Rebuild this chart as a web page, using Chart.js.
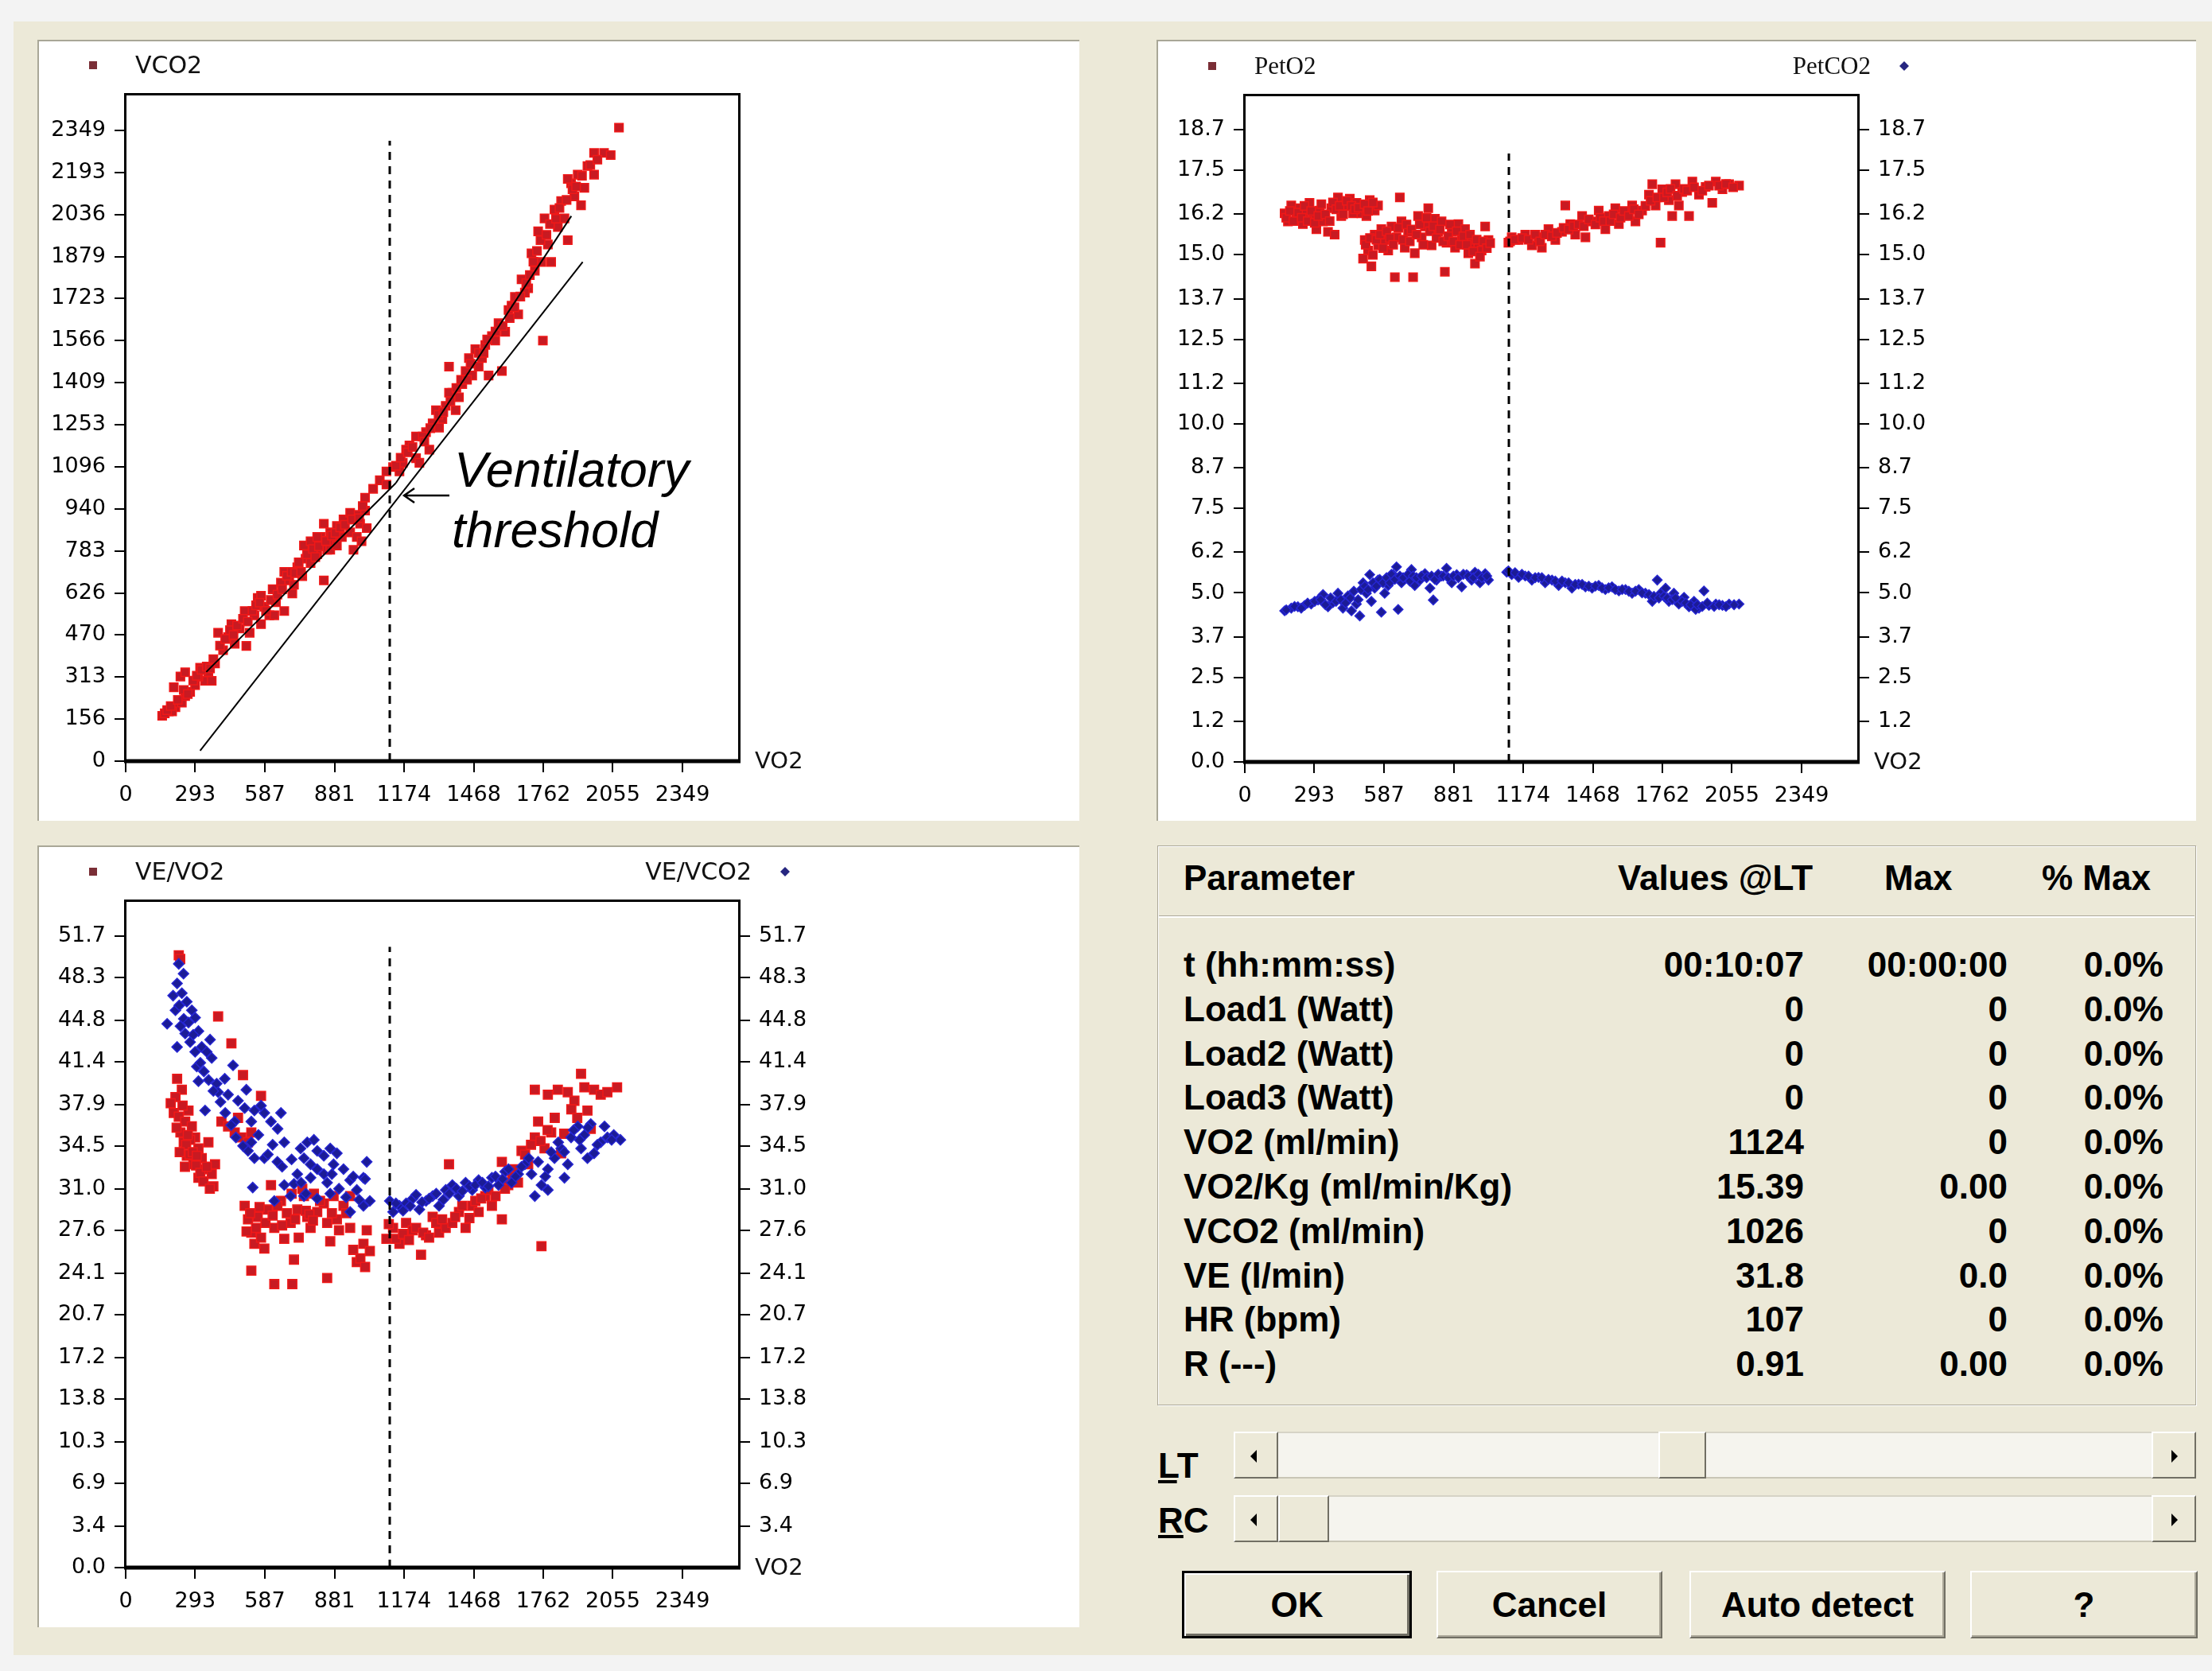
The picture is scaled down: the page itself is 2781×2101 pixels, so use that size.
<!DOCTYPE html>
<html>
<head>
<meta charset="utf-8">
<script src="https://cdn.jsdelivr.net/npm/chart.js@4.4.0/dist/chart.umd.min.js"></script>
<style>
html,body{margin:0;padding:0;}
body{width:2781px;height:2101px;background:#f3f3f3;position:relative;overflow:hidden;font-family:"Liberation Sans",Arial,sans-serif;}
#frame{position:absolute;left:17px;top:27px;width:2764px;height:2054px;background:#ece9d8;}
.panel{position:absolute;background:#fff;border-top:2px solid #a9a797;border-left:2px solid #a9a797;box-sizing:border-box;}
canvas{position:absolute;}
#group{position:absolute;left:1455px;top:1063px;width:1306px;height:704px;box-sizing:border-box;border:1px solid #aca899;box-shadow:inset 1px 1px 0 #fff,1px 1px 0 #fff;}
#sep{position:absolute;left:1457px;top:1151px;width:1302px;height:1px;background:#aca899;border-bottom:2px solid #fff;}
.txt{position:absolute;font-weight:bold;font-size:44px;line-height:50px;color:#000;white-space:nowrap;}
.track{position:absolute;left:1551px;width:1210px;height:59px;background:#f5f4ee;box-sizing:border-box;border-top:2px solid #d6d3c6;border-bottom:2px solid #c9c6b6;}
.sbtn{position:absolute;top:-2px;width:56px;height:59px;background:#ece9d8;box-sizing:border-box;border:2px solid;border-color:#fff #716f64 #716f64 #fff;}
.arrL,.arrR{position:absolute;top:21px;width:0;height:0;border-top:8px solid transparent;border-bottom:8px solid transparent;}
.arrL{left:19px;border-right:8px solid #000;}
.arrR{left:23px;border-left:8px solid #000;}
.btn{position:absolute;top:1975px;height:85px;background:#ece9d8;box-sizing:border-box;border:2px solid;border-color:#fff #716f64 #716f64 #fff;box-shadow:inset -2px -2px 0 #aca899;display:flex;align-items:center;justify-content:center;font-weight:bold;font-size:44px;color:#000;}
#ok{border:3px solid #000;box-shadow:inset 2px 2px 0 #fff,inset -3px -3px 0 #716f64;}
</style>
</head>
<body>
<div id="frame"></div>
<div class="panel" style="left:47px;top:50px;width:1310px;height:982px;"></div>
<div class="panel" style="left:1454px;top:50px;width:1307px;height:982px;"></div>
<div class="panel" style="left:47px;top:1063px;width:1310px;height:983px;"></div>
<canvas id="c1" width="1310" height="982" style="left:47px;top:50px;"></canvas>
<canvas id="c2" width="1310" height="982" style="left:1454px;top:51px;"></canvas>
<canvas id="c3" width="1310" height="982" style="left:47px;top:1064px;"></canvas>

<div id="group"></div>
<div id="sep"></div>
<div id="tbl"></div>

<div class="txt" style="left:1456px;top:1818px;"><u>L</u>T</div>
<div class="txt" style="left:1456px;top:1887px;"><u>R</u>C</div>
<div class="track" style="top:1800px;">
  <div class="sbtn" style="left:0;"><div class="arrL"></div></div>
  <div class="sbtn" style="left:534px;width:60px;"></div>
  <div class="sbtn" style="left:1154px;"><div class="arrR"></div></div>
</div>
<div class="track" style="top:1880px;">
  <div class="sbtn" style="left:0;"><div class="arrL"></div></div>
  <div class="sbtn" style="left:56px;width:64px;"></div>
  <div class="sbtn" style="left:1154px;"><div class="arrR"></div></div>
</div>
<div class="btn" id="ok" style="left:1486px;width:289px;">OK</div>
<div class="btn" style="left:1806px;width:284px;">Cancel</div>
<div class="btn" style="left:2124px;width:322px;">Auto detect</div>
<div class="btn" style="left:2477px;width:286px;">?</div>

<script>
// axis tick labels
const vo2Ticks = ['0','293','587','881','1174','1468','1762','2055','2349'];
const vco2Ticks = ['0','156','313','470','626','783','940','1096','1253','1409','1566','1723','1879','2036','2193','2349'];
const petTicks = ['0.0','1.2','2.5','3.7','5.0','6.2','7.5','8.7','10.0','11.2','12.5','13.7','15.0','16.2','17.5','18.7'];
const eqTicks = ['0.0','3.4','6.9','10.3','13.8','17.2','20.7','24.1','27.6','31.0','34.5','37.9','41.4','44.8','48.3','51.7'];

// threshold marker (VO2) and the top of each dashed line
const ltVO2 = 1114;
const dashTop = [2310, 18.0, 50.8];

// VCO2 vs VO2
const vo2Slope = [154,182,210,203,237,251,231,272,293,314,
335,349,363,377,390,411,432,446,460,481,
502,509,523,543,557,571,585,606,620,634,
655,669,690,703,724,745,759,780,794,808,
822,836,850,863,877,891,912,933,947,961,
975,989,1010,1010,1017,752,780,808,836,863,
891,919,947,975,995,710,627,571,669,307,
251,196,1044,1072,1100,1128,1100,1155,1169,1197,
1225,1239,1225,1267,1295,1309,1336,1350,1364,1378,
1406,1420,1434,1448,1462,1475,1503,1517,1531,1587,
1545,1573,1601,1615,1642,1656,1670,1698,1712,1726,
1740,1754,1767,1760,1781,1795,1809,1837,1851,1865,
1879,1893,1907,1921,1935,1948,1976,1976,2018,2046,
2081,1865,1823,1684,1628,1559,1489,1364,1392,1281,
1183,1253,1322,
165,175,190,220,245,262,285,300,320,342,
356,370,398,420,440,455,470,495,515,535,
550,565,592,612,640,660,680,700,715,730,
740,765,790,800,815,845,870,885,905,925,
955,985,1000,
1140,1160,1190,1210,1260,1285,1320,1340,1370,1395,
1415,1440,1455,1490,1510,1525,1560,1590,1620,1640,
1665,1690,1705,1720,1735,1750,1775,1790,1815,1830,
1860,1885,1900,1925,1960,1990];
const vco2Slope = [169,185,201,275,218,242,315,258,283,348,
299,332,299,364,478,413,462,510,437,494,
559,429,478,543,608,510,575,543,640,592,
665,559,673,624,722,689,754,738,803,770,
835,673,787,852,819,876,835,900,852,787,
917,884,933,981,868,803,819,835,884,787,
803,900,925,835,819,657,543,616,705,315,
331,185,1014,1046,1079,1095,1030,1079,1111,1176,
1128,1111,1209,1225,1258,1307,1274,1323,1469,1372,
1355,1404,1453,1501,1436,1534,1501,1550,1436,1453,
1583,1631,1599,1680,1729,1664,1794,1761,1891,1826,
1973,1859,2021,1566,1924,1859,2054,2086,2021,1940,
2152,2103,2184,2070,2135,2216,2184,2265,2265,2257,
2359,2168,1989,1745,1696,1566,1469,1372,1307,1160,
1160,1209,1242,
178,190,205,228,265,250,300,318,340,352,
345,380,430,455,488,470,505,530,520,560,
580,590,560,600,620,640,690,705,700,740,
705,770,790,760,800,820,840,850,870,880,
900,905,950,
1100,1130,1150,1170,1190,1240,1290,1300,1340,1390,
1420,1420,1480,1520,1520,1570,1600,1620,1650,1690,
1730,1780,1810,1860,1900,1940,1960,2000,2020,2060,
2090,2130,2140,2180,2220,2240];

// fitted lines on the V-slope plot
const fitAllVO2 = [314, 1928];
const fitAllVCO2 = [39, 1859];
const fitLowVO2 = [340, 1140];
const fitLowVCO2 = [332, 1036];
const fitHighVO2 = [1140, 1880];
const fitHighVCO2 = [1036, 2030];

// PetO2 / PetCO2 vs VO2
const vo2PetO2 = [168,182,196,217,231,245,259,273,287,302,
316,330,351,365,379,393,407,421,443,457,
471,492,513,527,548,562,654,506,520,499,
534,548,562,576,590,605,619,633,640,661,
675,689,710,717,731,746,760,774,788,802,
816,830,844,851,873,887,901,915,929,943,
957,971,985,999,1014,1028,1112,1126,1155,1183,
1211,1239,1253,1281,1310,1338,1352,1373,1394,1423,
1437,1465,1493,1521,1535,1563,1578,1606,1634,1648,
1676,1705,1719,1733,1754,1761,1789,1817,1831,1845,
1874,1888,1916,1944,1972,1987,2015,2043,2085,1803,
175,190,205,225,240,252,265,280,295,310,
323,340,358,372,386,400,415,430,450,465,
480,505,520,540,
510,528,540,555,570,583,598,612,626,648,
668,682,696,703,724,738,753,767,781,795,
809,823,837,858,866,880,894,908,922,936,
950,964,978,992,1006,1021,1035,
1119,1140,1170,1197,1225,1246,1267,1295,1317,1345,
1366,1387,1408,1430,1451,1479,1500,1514,1542,1556,
1585,1599,1620,1641,1662,1690,1712,1740,1768,1782,
1796,1824,1852,1866,1895,1930,1958,2001,2030,2060];
const petO2 = [16.23,15.99,16.46,16.15,16.38,15.91,16.23,16.54,16.07,15.76,
16.31,15.99,15.68,16.38,15.60,16.70,16.15,16.46,16.66,16.23,
16.54,16.23,16.15,16.62,16.31,16.46,16.70,15.44,15.13,14.89,
14.66,15.60,15.28,15.76,15.44,15.13,15.84,14.34,15.52,15.99,
15.21,15.68,14.34,15.05,16.15,15.52,15.84,16.38,15.28,16.07,
15.68,15.99,14.50,15.36,15.68,15.21,15.91,15.52,15.76,15.05,
15.36,14.74,15.28,15.13,15.84,15.44,15.36,15.52,15.44,15.60,
15.28,15.52,15.21,15.76,15.44,15.68,16.46,15.91,15.60,16.15,
15.52,15.99,16.31,15.76,16.15,16.38,15.91,16.23,16.46,15.99,
16.31,16.78,17.09,16.46,15.36,16.94,16.62,17.09,16.46,16.86,
16.15,17.17,16.78,17.01,16.54,17.17,16.94,17.09,17.05,16.15,
16.1,16.3,16.0,16.25,16.1,16.45,16.0,16.3,15.95,16.15,
16.5,16.2,16.0,16.55,16.35,16.45,16.2,16.6,16.45,16.35,
16.4,16.5,16.3,16.55,
15.3,15.5,15.0,15.45,15.6,15.2,15.7,15.5,15.3,15.8,
15.45,15.9,15.4,15.75,15.6,15.9,15.3,16.1,15.7,15.85,
15.5,15.75,15.4,15.55,15.9,15.4,15.7,15.3,15.55,15.3,
15.6,15.1,15.45,14.95,15.4,15.2,15.35,
15.40,15.45,15.5,15.45,15.6,15.4,15.6,15.55,15.65,15.8,
15.75,15.85,15.9,15.85,16.05,15.9,16.1,16.0,16.0,16.2,
16.1,16.3,16.15,16.35,16.2,16.45,16.6,16.7,16.7,16.85,
16.95,16.75,16.95,16.9,17.0,16.9,17.05,17.05,17.1,17.0];
const vo2PetCO2 = [168,196,224,252,280,309,330,351,372,393,
414,435,450,471,485,499,513,527,534,548,
562,576,590,605,626,640,647,661,682,703,
717,739,760,781,795,809,830,851,873,894,
915,936,957,971,992,1014,1028,1105,1126,1155,
1183,1211,1239,1267,1296,1324,1352,1380,1408,1437,
1465,1493,1521,1549,1578,1606,1634,1662,1690,1719,
1740,1754,1775,1789,1810,1831,1853,1874,1895,1916,
1937,1958,1987,2015,2043,2085,1902,
175,210,238,265,295,320,340,362,385,405,
425,445,460,478,490,506,520,541,555,569,
583,598,612,619,633,654,668,689,696,710,
724,745,767,788,802,816,837,858,880,901,
922,943,964,985,1000,1021,1112,1140,1169,1197,
1225,1253,1281,1310,1338,1366,1394,1423,1451,1479,
1507,1535,1563,1592,1620,1648,1676,1705,1726,1747,
1768,1782,1803,1817,1845,1860,1881,1909,1930,1951,
1980,2001,2030,2064];
const petCO2 = [4.47,4.55,4.59,4.63,4.67,4.79,4.95,4.59,4.71,4.99,
4.55,4.91,4.47,4.67,4.32,5.30,4.99,5.54,4.75,5.14,
5.38,4.43,4.99,5.22,5.54,5.77,4.51,5.30,5.46,5.69,
5.22,5.38,5.57,5.14,4.79,5.38,5.50,5.73,5.30,5.54,
5.18,5.54,5.38,5.61,5.30,5.57,5.38,5.61,5.54,5.46,
5.50,5.38,5.46,5.30,5.38,5.22,5.30,5.14,5.26,5.18,
5.14,5.22,5.10,5.18,5.06,5.10,4.99,5.10,4.99,4.75,
5.38,4.99,5.14,4.75,4.99,4.67,4.87,4.59,4.75,4.55,
5.06,4.63,4.67,4.63,4.67,4.67,4.51,
4.5,4.6,4.55,4.7,4.75,4.8,4.65,4.85,4.75,4.8,
4.7,4.85,5.05,4.8,5.1,5.2,5.1,5.3,5.2,5.4,
5.3,5.45,5.3,5.55,5.4,5.5,5.45,5.55,5.35,5.5,
5.45,5.5,5.45,5.5,5.4,5.55,5.5,5.45,5.5,5.45,
5.55,5.5,5.45,5.55,5.45,5.5,5.65,5.6,5.55,5.5,
5.45,5.45,5.4,5.35,5.35,5.3,5.25,5.25,5.2,5.2,
5.15,5.15,5.1,5.1,5.05,5.05,5.0,4.95,4.9,4.85,
4.9,4.85,4.8,4.85,4.75,4.7,4.65,4.65,4.6,4.7,
4.6,4.65,4.6,4.65];

// VE/VO2 and VE/VCO2 vs VO2
const vo2VeO2 = [224,230,217,237,203,224,251,231,265,279,
245,293,307,258,321,286,335,307,363,370,
349,377,272,390,446,495,571,404,432,460,
488,516,474,530,502,516,530,543,557,571,
585,530,599,613,627,655,669,696,710,724,
752,780,808,836,863,850,891,919,947,975,
1003,1017,1030,627,703,766,794,877,947,1100,
1128,1155,1183,1211,1246,1267,1295,1322,1350,1364,
1378,1406,1434,1462,1489,1517,1545,1587,1587,1614,
1642,1670,1698,1726,1726,1740,1754,1767,1781,1795,
1823,1837,1865,1893,1921,1935,1948,1976,2004,2032,
2073,1962,
210,215,240,255,262,270,283,297,300,315,
328,342,355,190,228,250,
510,525,550,565,590,620,640,660,680,700,
715,730,745,760,775,790,820,850,870,900,
930,960,990,1010,
1110,1140,1170,1195,1225,1255,1280,1310,1335,1390,
1420,1450,1475,1500,1530,1560,1600,1630,1655,1685,
1710,1750,1780,1810,1850,1880,1905];
const veVO2 = [50.1,49.8,40.0,39.1,37.2,36.9,36.5,35.6,37.4,36.1,
34.8,35.2,34.3,33.7,33.5,33.0,32.6,31.9,32.2,31.2,
34.8,33.0,35.0,45.1,42.9,40.3,38.6,36.5,36.1,35.6,
35.2,34.8,36.8,35.6,29.6,28.5,27.4,26.5,28.7,27.0,
26.1,24.3,29.3,31.3,27.8,30.0,26.9,28.2,25.2,29.3,
30.4,27.8,29.1,29.8,26.7,23.7,28.5,29.6,27.8,25.0,
26.5,27.6,25.9,23.2,23.2,28.7,30.6,30.4,30.4,26.9,
27.8,26.5,28.2,27.6,25.6,27.2,28.7,27.4,27.8,33.0,
28.2,29.1,27.8,29.6,29.1,30.4,29.6,33.2,28.5,31.3,
32.6,34.1,33.0,35.2,39.1,36.5,26.3,34.3,38.7,35.6,
39.1,33.9,38.9,38.2,40.4,39.3,37.4,39.1,38.7,38.9,
39.3,35.9,
38.5,36.0,37.8,34.6,35.4,33.8,34.0,32.9,33.7,32.3,
31.6,32.8,31.0,38.0,34.0,32.8,
27.5,29.0,27.8,29.5,28.2,28.8,29.6,28.0,29.0,30.6,
28.5,27.0,31.0,29.2,28.9,28.4,30.0,28.2,29.0,27.6,
29.0,26.0,25.3,24.6,
28.1,26.9,27.3,26.8,27.8,27.4,27.0,28.2,28.5,28.7,
29.6,28.6,30.0,30.2,30.9,30.4,31.0,32.0,31.5,33.8,
34.6,34.9,35.8,36.8,35.5,37.5,36.8];
const vo2VeCO2 = [224,244,217,237,258,210,279,175,231,293,
251,307,217,272,321,342,363,293,356,307,
384,418,453,390,432,474,509,502,543,585,
335,460,530,571,613,655,641,516,543,585,
530,669,738,766,794,808,752,836,780,863,
808,877,836,891,724,919,947,1003,1017,975,
536,669,627,696,752,808,863,947,1003,1030,
1114,1128,1155,1183,1211,1239,1267,1295,1322,1350,
1378,1406,1434,1462,1489,1517,1545,1573,1601,1628,
1656,1684,1712,1726,1754,1781,1809,1837,1865,1879,
1907,1921,1935,1948,1962,1976,2004,2032,2059,2087,
1851,1781,
200,226,245,265,285,300,315,330,350,370,
400,420,445,465,495,560,600,620,640,660,
700,710,740,760,780,850,870,900,930,960,
985,1010,1140,1170,1200,1225,1250,1280,1310,1340,
1365,1395,1420,1450,1475,1505,1530,1560,1590,1615,
1645,1670,1700,1740,1770,1795,1825,1850,1890,1915,
1950,1990,2020,2050];
const veVCO2 = [49.4,48.6,47.8,47.0,46.3,45.6,45.6,44.5,44.3,45.0,
43.7,43.9,42.6,43.0,42.6,42.2,41.7,42.2,43.2,39.8,
39.6,40.0,41.1,38.9,38.7,38.2,39.1,37.6,37.4,37.2,
37.4,36.5,36.5,37.8,36.5,37.2,35.9,34.1,33.5,33.5,
34.8,34.8,34.3,34.8,35.0,34.1,33.5,33.7,33.0,34.3,
32.6,33.0,32.2,33.9,32.2,32.6,31.7,31.9,33.2,30.9,
31.1,31.3,30.0,30.4,30.4,30.2,30.6,29.1,29.6,30.0,
30.0,29.1,29.6,29.8,30.2,29.3,30.0,30.4,29.6,30.9,
31.3,30.4,31.5,30.9,31.7,31.1,31.9,31.3,32.4,31.5,
32.2,33.0,32.2,30.4,31.3,32.6,33.5,34.3,33.0,35.2,
36.1,34.3,35.4,33.5,36.3,33.9,34.8,35.2,35.4,35.0,
31.9,30.9,
46.8,46.0,44.9,44.6,43.6,41.0,41.3,40.6,39.9,39.0,
38.1,37.2,36.2,35.2,34.5,35.4,33.8,34.6,33.2,32.8,
33.4,31.4,31.5,30.6,31.9,31.5,32.2,31.0,30.3,32.0,
30.1,31.8,29.8,29.2,29.6,30.5,29.9,30.2,30.6,30.1,
30.6,31.0,30.8,31.2,31.3,31.5,31.2,32.0,31.8,32.6,
32.0,32.8,33.5,33.2,32.0,34.0,34.8,34.0,35.8,35.0,
36.0,34.6,36.1,35.0];

// table
const paramNames = ['t (hh:mm:ss)','Load1 (Watt)','Load2 (Watt)','Load3 (Watt)','VO2 (ml/min)','VO2/Kg (ml/min/Kg)','VCO2 (ml/min)','VE (l/min)','HR (bpm)','R (---)'];
const valuesAtLT = ['00:10:07','0','0','0','1124','15.39','1026','31.8','107','0.91'];
const maxValues = ['00:00:00','0','0','0','0','0.00','0','0.0','0','0.00'];
const pctOfMax = ['0.0%','0.0%','0.0%','0.0%','0.0%','0.0%','0.0%','0.0%','0.0%','0.0%'];

const RED = '#c81a22', RED_EDGE = '#f01818';
const BLUE = '#1b1b96', BLUE_EDGE = '#2626d2';

const tbl = document.getElementById('tbl');
function cell(text, x, y, align) {
  const d = document.createElement('div');
  d.className = 'txt';
  d.textContent = text;
  d.style.top = y + 'px';
  if (align === 'right') d.style.right = (2781 - x) + 'px'; else d.style.left = x + 'px';
  tbl.appendChild(d);
}
cell('Parameter', 1488, 1079, 'left');
cell('Values @LT', 2034, 1079, 'left');
cell('Max', 2369, 1079, 'left');
cell('% Max', 2567, 1079, 'left');
paramNames.forEach((name, i) => {
  const y = Math.round(1213 + i * 55.8 - 25);
  cell(name, 1488, y, 'left');
  cell(valuesAtLT[i], 2268, y, 'right');
  cell(maxValues[i], 2524, y, 'right');
  cell(pctOfMax[i], 2720, y, 'right');
});

Chart.defaults.font.family = '"DejaVu Sans", sans-serif';
Chart.defaults.color = '#000';

function pts(xs, ys) { return xs.map((x, i) => ({ x: x, y: ys[i] })); }

function axis(labels, min, max, pos, fitFn, pad) {
  const vals = labels.map(Number);
  return {
    type: 'linear', position: pos, min: min, max: max,
    afterBuildTicks: s => { s.ticks = vals.map(v => ({ value: v })); },
    afterFit: fitFn,
    ticks: { autoSkip: false, maxRotation: 0, padding: pad, font: { size: 27 }, color: '#000',
      callback: (v, i) => labels[i] },
    grid: { drawOnChartArea: false, drawTicks: true, tickLength: 14, color: '#000', lineWidth: 2 },
    border: { display: false }
  };
}

function marker(ctx, kind, x, y) {
  ctx.beginPath();
  if (kind === 'rect') { ctx.fillStyle = '#7a2e36'; ctx.rect(x - 5, y - 5, 10, 10); }
  else { ctx.fillStyle = '#262680'; ctx.moveTo(x - 6, y); ctx.lineTo(x, y - 6); ctx.lineTo(x + 6, y); ctx.lineTo(x, y + 6); ctx.closePath(); }
  ctx.fill();
}

const panelDeco = {
  id: 'panelDeco',
  afterDatasetsDraw(chart, args, o) {
    const ctx = chart.ctx, a = chart.chartArea;
    ctx.save();
    ctx.strokeStyle = '#000';
    ctx.lineWidth = 3;
    ctx.strokeRect(a.left - 0.5, a.top + 0.5, a.right - a.left + 1, a.bottom - a.top);
    ctx.lineWidth = 5;
    ctx.beginPath(); ctx.moveTo(a.left - 2, a.bottom); ctx.lineTo(a.right + 2, a.bottom); ctx.stroke();
    ctx.fillStyle = '#111';
    ctx.textBaseline = 'middle';
    ctx.font = '29px "DejaVu Sans"';
    ctx.fillText('VO2', a.right + 20, a.bottom + 1);
    if (o.left) {
      marker(ctx, o.left.mark, 70, 32);
      ctx.fillStyle = '#111'; ctx.font = o.left.font; ctx.textAlign = 'left';
      ctx.fillText(o.left.text, 123, 34);
    }
    if (o.right) {
      ctx.fillStyle = '#111'; ctx.font = o.right.font; ctx.textAlign = 'right';
      ctx.fillText(o.right.text, 898, 34);
      marker(ctx, o.right.mark, 940, 32);
    }
    if (o.note) {
      ctx.strokeStyle = '#000'; ctx.lineWidth = 2.5;
      ctx.beginPath();
      ctx.moveTo(518, 573); ctx.lineTo(461, 573);
      ctx.moveTo(474, 564); ctx.lineTo(461, 573); ctx.lineTo(474, 582);
      ctx.stroke();
      ctx.fillStyle = '#000'; ctx.textAlign = 'left'; ctx.textBaseline = 'alphabetic';
      ctx.font = 'italic 63px "Liberation Sans"';
      ctx.fillText('Ventilatory', 524, 562);
      ctx.fillText('threshold', 521, 638);
    }
    ctx.restore();
  }
};

function lineSet(xs, ys, dash, width) {
  return { data: pts(xs, ys), showLine: true, pointRadius: 0, borderColor: '#000', borderWidth: width,
    borderDash: dash, fill: false, order: 0 };
}
function dotSet(xs, ys, style, fill, edge, r, order) {
  return { data: pts(xs, ys), pointStyle: style, pointRadius: r, backgroundColor: fill, borderColor: edge,
    borderWidth: 1.5, order: order };
}

function makeChart(id, datasets, yLabels, yMax, withRight, deco) {
  const scales = {
    x: axis(vo2Ticks, 0, 2587, 'bottom', s => { s.height = 75; }, 13),
    y: axis(yLabels, 0, yMax, 'left', s => { s.width = 111; }, 11)
  };
  // right-hand axis: the bottom slot is taken by the VO2 caption
  if (withRight) scales.y2 = axis(yLabels.slice(1), 0, yMax, 'right', s => { s.width = 90; }, 11);
  return new Chart(document.getElementById(id), {
    type: 'scatter',
    data: { datasets: datasets },
    options: {
      responsive: false, animation: false, devicePixelRatio: 1, events: [],
      layout: { padding: { top: 68, left: 0, bottom: 0, right: withRight ? 338 : 428 } },
      scales: scales,
      plugins: { legend: { display: false }, tooltip: { enabled: false }, panelDeco: deco }
    },
    plugins: [panelDeco]
  });
}

makeChart('c1', [
  lineSet([ltVO2, ltVO2], [0, dashTop[0]], [10, 8], 3),
  lineSet(fitAllVO2, fitAllVCO2, [], 2),
  lineSet(fitLowVO2, fitLowVCO2, [], 2),
  lineSet(fitHighVO2, fitHighVCO2, [], 2),
  dotSet(vo2Slope, vco2Slope, 'rect', RED, RED_EDGE, 7.5, 1)
], vco2Ticks, 2485, false, {
  left: { text: 'VCO2', font: '30px "DejaVu Sans"', mark: 'rect' }, note: true
});

makeChart('c2', [
  lineSet([ltVO2, ltVO2], [0, dashTop[1]], [10, 8], 3),
  dotSet(vo2PetO2, petO2, 'rect', RED, RED_EDGE, 7.5, 1),
  dotSet(vo2PetCO2, petCO2, 'rectRot', BLUE, BLUE_EDGE, 6, 1)
], petTicks, 19.74, true, {
  left: { text: 'PetO2', font: '31px "Liberation Serif"', mark: 'rect' },
  right: { text: 'PetCO2', font: '31px "Liberation Serif"', mark: 'diamond' }
});

makeChart('c3', [
  lineSet([ltVO2, ltVO2], [0, dashTop[2]], [10, 8], 3),
  dotSet(vo2VeCO2, veVCO2, 'rectRot', BLUE, BLUE_EDGE, 6.5, 1),
  dotSet(vo2VeO2, veVO2, 'rect', RED, RED_EDGE, 8, 2)
], eqTicks, 54.6, true, {
  left: { text: 'VE/VO2', font: '30px "DejaVu Sans"', mark: 'rect' },
  right: { text: 'VE/VCO2', font: '30px "DejaVu Sans"', mark: 'diamond' }
});
</script>
</body>
</html>
